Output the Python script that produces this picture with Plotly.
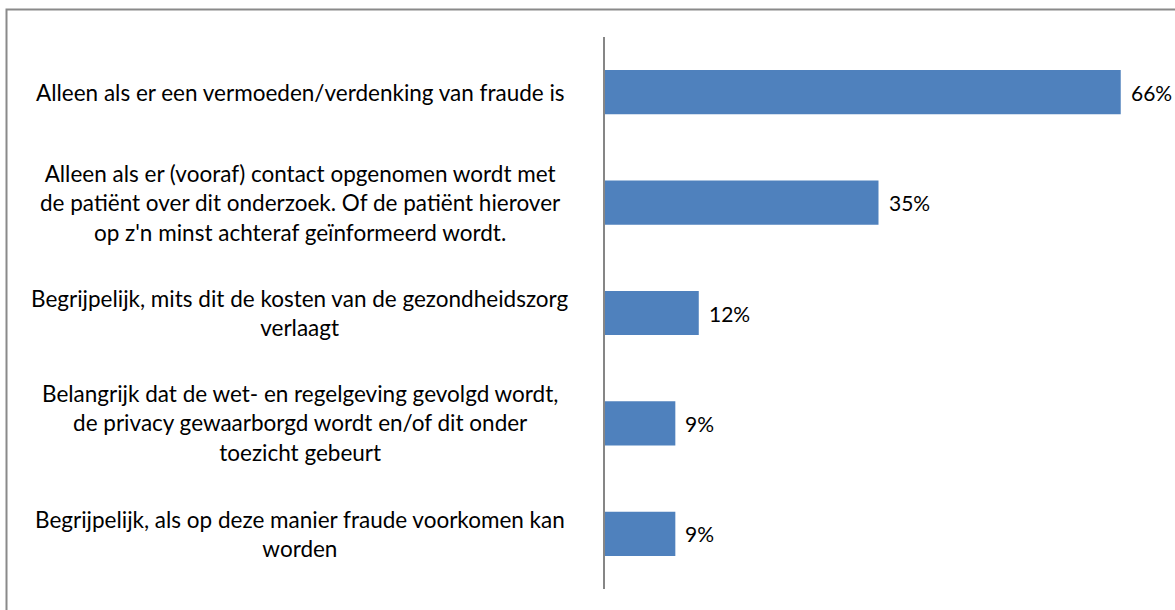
import plotly.graph_objects as go

# survey answers (top to bottom) and percentages
categories = [
    "Alleen als er een vermoeden/verdenking van fraude is",
    "Alleen als er (vooraf) contact opgenomen wordt met<br>de patiënt over dit onderzoek. Of de patiënt hierover<br>op z'n minst achteraf geïnformeerd wordt.",
    "Begrijpelijk, mits dit de kosten van de gezondheidszorg<br>verlaagt",
    "Belangrijk dat de wet- en regelgeving gevolgd wordt,<br>de privacy gewaarborgd wordt en/of dit onder<br>toezicht gebeurt",
    "Begrijpelijk, als op deze manier fraude voorkomen kan<br>worden",
]
values = [66, 35, 12, 9, 9]

W, H = 1175, 610
ml, mr, mt, mb = 605, 23, 37, 21
pw = W - ml - mr
ph = H - mt - mb

fig = go.Figure()
fig.add_trace(go.Bar(x=values, y=list(range(len(values))), orientation='h',
                     marker_color='#4F81BD', marker_line_width=0,
                     cliponaxis=False, hoverinfo='skip'))

# centered multi-line category labels left of the axis
for i, c in enumerate(categories):
    fig.add_annotation(x=(300 - ml) / pw, xref='paper', y=i, yref='y',
                       text=c, showarrow=False, xanchor='center', align='center',
                       font=dict(family='Lato', size=22.5, color='#000000'))

# value labels right of the bars
for i, v in enumerate(values):
    fig.add_annotation(x=v, y=i, xref='x', yref='y', text=f"{v}%",
                       showarrow=False, xanchor='left', xshift=8,
                       font=dict(family='Lato', size=21, color='#000000'))

# outer chart border
fig.add_shape(type='rect', xref='paper', yref='paper',
              x0=(6.5 - ml) / pw, x1=1.2, y0=-0.2, y1=(H - mb - 9.5) / ph,
              line=dict(color='#8a8a8a', width=2), fillcolor='rgba(0,0,0,0)')

fig.update_layout(width=W, height=H, autosize=False,
                  margin=dict(l=ml, r=mr, t=mt, b=mb),
                  paper_bgcolor='white', plot_bgcolor='white',
                  bargap=0.6, showlegend=False,
                  font=dict(family='Lato', size=17, color='#000000'))
fig.update_xaxes(range=[0, 70], visible=False, showgrid=False, zeroline=False)
fig.update_yaxes(range=[len(values) - 0.5, -0.5], showticklabels=False, ticks='',
                 showgrid=False, zeroline=False, showline=True,
                 linecolor='#868686', linewidth=2)

fig.write_html("out.html", config={'displayModeBar': False},
               post_script="document.body.style.margin='0';document.body.style.overflow='hidden';")
